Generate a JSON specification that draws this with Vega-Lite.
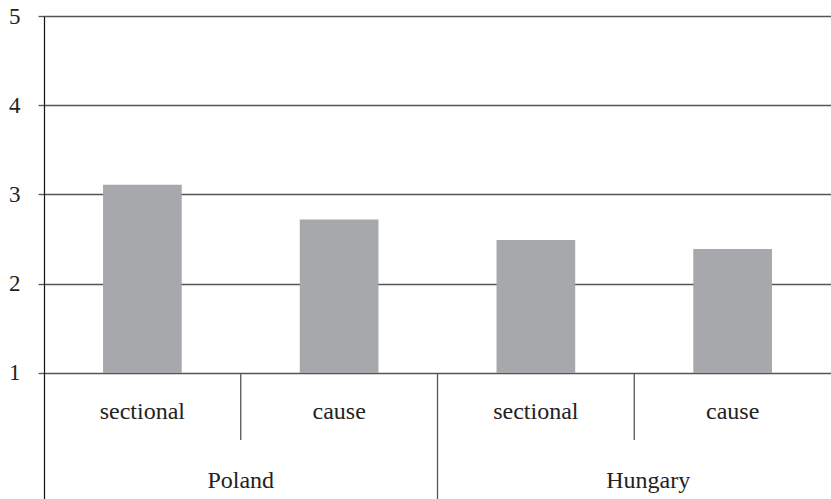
{
  "$schema": "https://vega.github.io/schema/vega-lite/v6.json",
  "autosize": {"type": "none"},
  "padding": {"left": 44, "top": 16, "right": 0, "bottom": 0},
  "width": 787,
  "height": 483,
  "background": "white",
  "config": {"view": {"stroke": null}, "font": "Liberation Serif"},
  "datasets": {
    "bars": [
      {"key": "Poland|sectional", "country": "Poland", "type": "sectional", "value": 3.11},
      {"key": "Poland|cause", "country": "Poland", "type": "cause", "value": 2.72},
      {"key": "Hungary|sectional", "country": "Hungary", "type": "sectional", "value": 2.49},
      {"key": "Hungary|cause", "country": "Hungary", "type": "cause", "value": 2.39}
    ],
    "countries": [
      {"key": "Poland|cause", "country": "Poland"},
      {"key": "Hungary|cause", "country": "Hungary"}
    ],
    "groupSep": [
      {"key": "Hungary|sectional"}
    ]
  },
  "encoding": {
    "x": {
      "field": "key",
      "type": "nominal",
      "sort": null,
      "scale": {"type": "band", "domain": ["Poland|sectional", "Poland|cause", "Hungary|sectional", "Hungary|cause"], "paddingInner": 0, "paddingOuter": 0},
      "axis": null
    }
  },
  "layer": [
    {
      "data": {"name": "bars"},
      "mark": {"type": "bar", "color": "#a7a8ab", "width": {"band": 0.4}},
      "encoding": {
        "y": {
          "field": "value",
          "type": "quantitative",
          "scale": {"domain": [-0.412, 5], "nice": false, "zero": false},
          "axis": {
            "values": [1, 2, 3, 4, 5],
            "format": "d",
            "title": null,
            "grid": true,
            "gridColor": "#555555",
            "gridWidth": 1.3,
            "gridOpacity": 1,
            "domainColor": "#111111",
            "domainWidth": 1.2,
            "tickColor": "#555555",
            "tickWidth": 1.3,
            "tickSize": 6,
            "labelFont": "Liberation Serif",
            "labelFontSize": 23,
            "labelColor": "#222222",
            "labelPadding": 18,
            "labelBaseline": "middle"
          }
        },
        "y2": {"datum": 1}
      }
    },
    {
      "data": {"name": "countries"},
      "mark": {"type": "rule", "color": "#555555", "strokeWidth": 1.3},
      "encoding": {
        "x": {"field": "key", "type": "nominal", "bandPosition": 0},
        "y": {"datum": 1},
        "y2": {"datum": 0.249}
      }
    },
    {
      "data": {"name": "groupSep"},
      "mark": {"type": "rule", "color": "#555555", "strokeWidth": 1.3},
      "encoding": {
        "x": {"field": "key", "type": "nominal", "bandPosition": 0},
        "y": {"datum": 1},
        "y2": {"datum": -0.412}
      }
    },
    {
      "data": {"name": "bars"},
      "mark": {"type": "text", "font": "Liberation Serif", "fontSize": 24, "color": "#222222", "baseline": "alphabetic", "align": "center"},
      "encoding": {
        "y": {"datum": 0.485},
        "text": {"field": "type"}
      }
    },
    {
      "data": {"name": "countries"},
      "transform": [{"filter": "datum.country === 'Poland'"}],
      "mark": {"type": "text", "font": "Liberation Serif", "fontSize": 24, "color": "#222222", "baseline": "alphabetic", "align": "center"},
      "encoding": {
        "x": {"field": "key", "type": "nominal", "bandPosition": 0},
        "y": {"datum": -0.289},
        "text": {"field": "country"}
      }
    },
    {
      "data": {"name": "countries"},
      "transform": [{"filter": "datum.country === 'Hungary'"}],
      "mark": {"type": "text", "font": "Liberation Serif", "fontSize": 24, "color": "#222222", "baseline": "alphabetic", "align": "center", "dx": 14},
      "encoding": {
        "x": {"field": "key", "type": "nominal", "bandPosition": 0},
        "y": {"datum": -0.289},
        "text": {"field": "country"}
      }
    }
  ]
}
